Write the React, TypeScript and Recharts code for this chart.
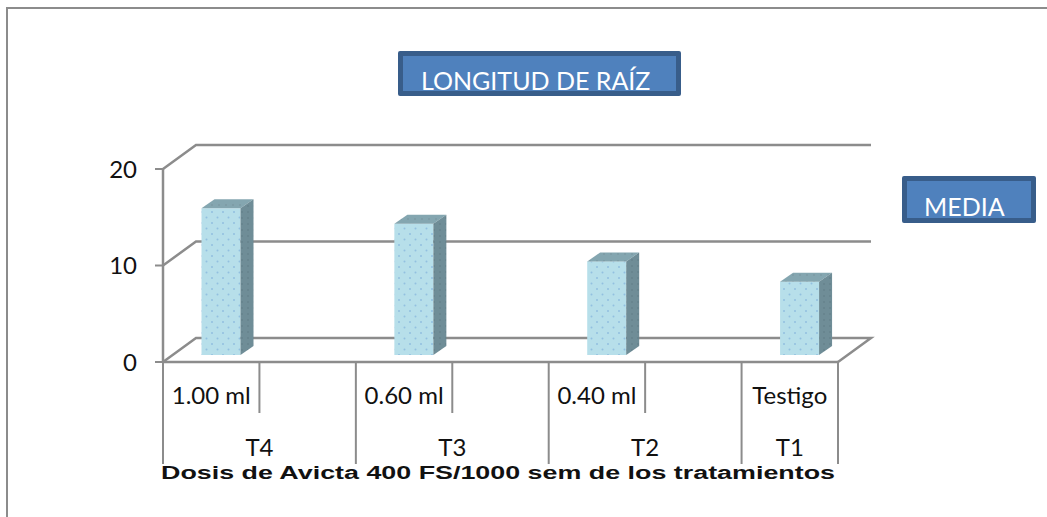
import React from 'react';
import { BarChart, Bar, XAxis, YAxis, CartesianGrid } from 'recharts';

const doses = ['1.00 ml', '0.60 ml', '0.40 ml', 'Testigo'];
const treatments = ['T4', 'T3', 'T2', 'T1'];
const media = [15.2, 13.6, 9.7, 7.6];
const yTicks = [0, 10, 20];

// the axis has one slot per half group, the last group only gets one
const rows = [0, 1, 2, 3, 4, 5, 6].map((slot) => {
  const i = slot / 2;
  return Number.isInteger(i)
    ? { slot, dose: doses[i], treatment: treatments[i], media: media[i] }
    : { slot, dose: '', treatment: '', media: null };
});

const GRAY = '#8c8c8c';
const FONT = 'Lato, sans-serif';
const DEPTH_X = 33;
const DEPTH_Y = 24;
const SLOT = 675 / 7;

// back wall lines, with the slanted side wall going to the front axis
const WallLine = (props: any) => {
  const { x1, x2, y1, index } = props;
  const pts = [`${x1},${y1}`, `${x1 + DEPTH_X},${y1 - DEPTH_Y}`, `${x2 + DEPTH_X},${y1 - DEPTH_Y}`];
  if (y1 > 300) pts.push(`${x2},${y1}`);
  return <polyline key={index} points={pts.join(' ')} fill="none" stroke={GRAY} strokeWidth={2.5} />;
};

const Bar3D = (props: any) => {
  const { x, y, width, height } = props;
  if (!height) return null;
  const fx = x + 9.5;
  const fy = y - 7;
  const dx = 13;
  const dy = 9;
  return (
    <g>
      <rect x={fx} y={fy} width={width} height={height} fill="url(#dotsFront)" />
      <path
        d={`M${fx},${fy} l${dx},${-dy} h${width} l${-dx},${dy} z`}
        fill="url(#dotsTop)"
      />
      <path
        d={`M${fx + width},${fy} l${dx},${-dy} v${height} l${-dx},${dy} z`}
        fill="url(#dotsSide)"
      />
    </g>
  );
};

const SlotTick = (props: any) => {
  const { x, y, payload } = props;
  const row = rows[payload.value];
  const left = x - SLOT / 2;
  const right = x + SLOT / 2;
  const long = row.slot % 2 === 1 || row.slot === 6;
  const textProps = { fontFamily: FONT, fontSize: 24, fill: '#111', textAnchor: 'middle' as const };
  return (
    <g>
      {row.slot === 0 && <line x1={left} x2={left} y1={y} y2={y + 102} stroke={GRAY} strokeWidth={2} />}
      <line x1={right} x2={right} y1={y} y2={y + (long ? 102 : 51)} stroke={GRAY} strokeWidth={2} />
      {row.dose && (
        <text x={x} y={y + 42} {...textProps}>
          {row.dose}
        </text>
      )}
      {row.treatment && (
        <text x={row.slot === 6 ? x : right} y={y + 94} {...textProps}>
          {row.treatment}
        </text>
      )}
    </g>
  );
};

const boxStyle = (left: number, top: number, width: number, height: number): React.CSSProperties => ({
  position: 'absolute',
  left,
  top,
  width,
  height,
  boxSizing: 'border-box',
  background: '#4f81bd',
  border: '5px solid #385d8a',
  borderRadius: 2,
  color: '#fff',
  fontFamily: FONT,
  fontSize: 25,
  overflow: 'hidden',
});

export default function App() {
  return (
    <div style={{ position: 'absolute', left: 0, top: 0, width: 1047, height: 517, background: '#fff', overflow: 'hidden' }}>
      <div style={{ position: 'absolute', left: 6, top: 7, width: 1041, height: 510, borderLeft: `2px solid ${GRAY}`, borderTop: `2px solid ${GRAY}`, boxSizing: 'border-box' }} />
      <BarChart
        width={1047}
        height={517}
        data={rows}
        margin={{ top: 169, left: 63, right: 209, bottom: 35 }}
        barSize={39}
        style={{ position: 'absolute', left: 0, top: 0 }}
      >
        <defs>
          <pattern id="dotsFront" width="11" height="11" patternUnits="userSpaceOnUse">
            <rect width="11" height="11" fill="#b7dfea" />
            <circle cx="3" cy="3" r="1" fill="#92c0e0" />
            <circle cx="8.5" cy="8.5" r="1" fill="#92c0e0" />
          </pattern>
          <pattern id="dotsTop" width="7" height="7" patternUnits="userSpaceOnUse">
            <rect width="7" height="7" fill="#84a6b0" />
            <circle cx="2" cy="2" r="0.8" fill="#76929c" />
          </pattern>
          <pattern id="dotsSide" width="6" height="6" patternUnits="userSpaceOnUse">
            <rect width="6" height="6" fill="#6f8d97" />
            <circle cx="2" cy="2" r="0.8" fill="#5f7b85" />
          </pattern>
        </defs>
        <CartesianGrid vertical={false} horizontal={(p: any) => <WallLine {...p} />} />
        <XAxis
          dataKey="slot"
          height={120}
          interval={0}
          tickSize={0}
          tickMargin={0}
          tick={<SlotTick />}
          axisLine={{ stroke: GRAY, strokeWidth: 2.5 }}
        />
        <YAxis
          width={100}
          domain={[0, 20]}
          ticks={yTicks}
          tickSize={8}
          tickMargin={18}
          axisLine={{ stroke: GRAY, strokeWidth: 2.5 }}
          tickLine={{ stroke: GRAY, strokeWidth: 2 }}
          tick={{ fontFamily: FONT, fontSize: 24, fill: '#111' }}
        />
        <Bar dataKey="media" shape={<Bar3D />} isAnimationActive={false} />
      </BarChart>
      <div style={boxStyle(398, 51, 283, 45)}>
        <div style={{ marginLeft: 18, marginTop: 9, lineHeight: '30px', whiteSpace: 'nowrap' }}>LONGITUD DE RAÍZ</div>
      </div>
      <div style={boxStyle(902, 176, 134, 47)}>
        <div style={{ marginLeft: 17, marginTop: 10, lineHeight: '30px' }}>MEDIA</div>
      </div>
      <svg width={1047} height={517} style={{ position: 'absolute', left: 0, top: 0, pointerEvents: 'none' }}>
        <text
          x={161}
          y={479}
          textLength={674}
          lengthAdjust="spacingAndGlyphs"
          fontFamily="Liberation Sans, Arial, sans-serif"
          fontWeight="bold"
          fontSize={18}
          fill="#111"
        >
          Dosis de Avicta 400 FS/1000 sem de los tratamientos
        </text>
      </svg>
    </div>
  );
}
